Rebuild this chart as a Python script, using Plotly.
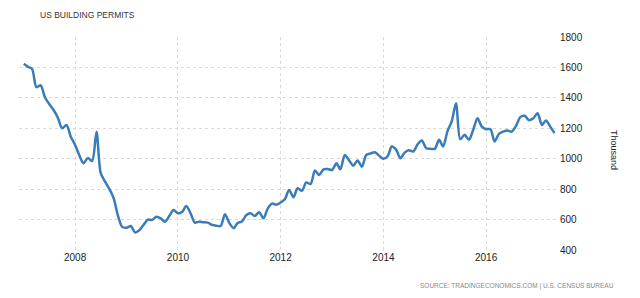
import plotly.graph_objects as go
import pandas as pd

dates = pd.date_range("2007-01-01", "2017-05-01", freq="MS")

permits = [
    # 2007
    1624, 1604, 1590, 1470, 1482, 1402, 1360, 1320, 1268, 1200, 1222, 1145,
    # 2008
    1090, 1020, 970, 1005, 985, 1178, 905, 850, 800, 740, 625, 552,
    # 2009
    547, 558, 516, 530, 564, 600, 597, 619, 608, 586, 625, 663,
    # 2010
    641, 652, 689, 641, 580, 586, 582, 580, 565, 560, 558, 635,
    # 2011
    578, 543, 578, 588, 628, 641, 624, 648, 608, 672, 705, 698,
    # 2012
    712, 735, 795, 747, 806, 790, 844, 834, 922, 893, 930, 932,
    # 2013
    926, 970, 931, 1025, 990, 953, 988, 948, 1025, 1035, 1043, 1020,
    # 2014
    999, 1018, 1080, 1060, 1003, 1040, 1055, 1047, 1095, 1120, 1069, 1065,
    # 2015
    1065, 1124, 1080, 1180, 1244, 1365, 1128, 1157, 1124, 1190, 1266, 1211,
    # 2016
    1194, 1194, 1113, 1163, 1178, 1185, 1178, 1216, 1275, 1282, 1253, 1266,
    # 2017
    1299, 1222, 1251, 1211, 1168,
]

y_ticks = [400, 600, 800, 1000, 1200, 1400, 1600, 1800]
x_ticks = ["2008-01-01", "2010-01-01", "2012-01-01", "2014-01-01", "2016-01-01"]
x_tick_labels = ["2008", "2010", "2012", "2014", "2016"]

fig = go.Figure()
fig.add_trace(go.Scatter(
    x=dates, y=permits, mode="lines",
    line=dict(color="#3a7cba", width=2.5, shape="spline", smoothing=0.8),
    hoverinfo="skip", showlegend=False,
))

grid = "#d9d9d9"
fig.update_layout(
    width=640, height=298,
    margin=dict(l=19, r=82, t=37, b=48),
    paper_bgcolor="white", plot_bgcolor="white",
    font=dict(family="Liberation Sans, Arial, sans-serif", size=9, color="#333333"),
    xaxis=dict(
        range=["2006-11-28", "2017-05-26"],
        tickvals=x_ticks, ticktext=x_tick_labels,
        showgrid=True, gridcolor=grid, griddash="dot", gridwidth=1,
        zeroline=False, showline=False, ticks="",
        tickfont=dict(size=10, color="#222222"),
    ),
    yaxis=dict(
        range=[400, 1800], side="right",
        tickvals=y_ticks,
        showgrid=True, gridcolor=grid, griddash="dot", gridwidth=1,
        zeroline=False, showline=False, ticks="",
        tickfont=dict(size=10, color="#222222"),
        ticklabelstandoff=1,
    ),
)

# place annotations in pixel terms relative to plot area
pw = 640 - 19 - 82
ph = 298 - 37 - 48
def px(xp):
    return (xp - 19) / pw
def py(yp):
    return (250 - yp) / ph

fig.update_layout(annotations=[
    dict(text="US BUILDING PERMITS", xref="paper", yref="paper",
         x=px(38), y=py(15), showarrow=False,
         xanchor="left", yanchor="middle",
         font=dict(size=8.5, color="#333333")),
    dict(text="Thousand", xref="paper", yref="paper",
         x=px(614), y=py(150), showarrow=False, textangle=90,
         xanchor="center", yanchor="middle",
         font=dict(size=9, color="#222222")),
    dict(text="SOURCE: TRADINGECONOMICS.COM | U.S. CENSUS BUREAU",
         xref="paper", yref="paper", x=px(418), y=py(286), showarrow=False,
         xanchor="left", yanchor="middle",
         font=dict(size=6.5, color="#888888")),
])

fig.write_html("out.html")
